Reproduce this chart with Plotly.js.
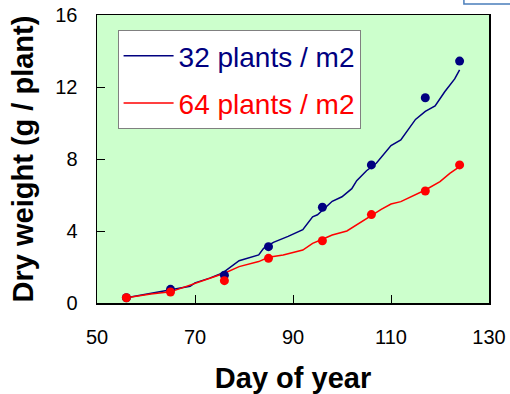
<!DOCTYPE html>
<html>
<head>
<meta charset="utf-8">
<script src="https://cdn.plot.ly/plotly-3.0.1.min.js"></script>
<style>html,body{margin:0;padding:0;background:#fff;}#chart{width:510px;height:394px;}</style>
</head>
<body>
<div id="chart"></div>
<script>
const obsDays = [56, 65, 76, 85, 96, 106, 117, 124];
const obs32 = [0.29, 0.76, 1.54, 3.13, 5.32, 7.67, 11.4, 13.44];
const obs64 = [0.29, 0.61, 1.24, 2.48, 3.46, 4.91, 6.22, 7.67];

const simDays32 = [56, 61, 65, 69, 70, 73, 75, 76, 79, 83, 84, 86, 89, 92, 94, 95, 98, 100, 102, 103, 105, 107, 110, 112, 115, 117, 119, 121, 123, 124];
const sim32 = [0.29, 0.54, 0.75, 0.93, 1.12, 1.38, 1.6, 1.74, 2.35, 2.67, 3.04, 3.37, 3.7, 4.07, 4.79, 4.9, 5.65, 5.9, 6.35, 6.8, 7.35, 7.76, 8.75, 9.06, 10.2, 10.65, 10.95, 11.75, 12.45, 12.95];

const simDays64 = [56, 61, 65, 69, 76, 79, 83, 85, 88, 92, 94, 96, 98, 101, 104, 106, 108, 110, 112, 117, 120, 122, 124];
const sim64 = [0.29, 0.5, 0.62, 1.0, 1.65, 2.02, 2.3, 2.54, 2.67, 2.94, 3.31, 3.54, 3.78, 4.0, 4.52, 4.9, 5.2, 5.5, 5.63, 6.28, 6.74, 7.2, 7.57];

const names = ['32 plants / m2', '64 plants / m2'];
const blue = '#000080', red = '#ff0000';
const F = 'Liberation Sans, Arial, sans-serif';

const traces = [
  {x: simDays32, y: sim32, mode: 'lines', name: '<span style="color:' + blue + '">' + names[0] + '</span>', line: {color: blue, width: 1.5}, legendgroup: 'a'},
  {x: simDays64, y: sim64, mode: 'lines', name: '<span style="color:' + red + '">' + names[1] + '</span>', line: {color: red, width: 1.5}, legendgroup: 'b'},
  {x: obsDays, y: obs32, mode: 'markers', showlegend: false, marker: {color: blue, size: 9}},
  {x: obsDays, y: obs64, mode: 'markers', showlegend: false, marker: {color: red, size: 9}}
];

const layout = {
  width: 510, height: 394,
  margin: {l: 97, r: 21, t: 15, b: 91},
  paper_bgcolor: '#ffffff',
  plot_bgcolor: '#ccffcc',
  font: {family: F, color: '#000'},
  showlegend: true,
  legend: {
    x: 0.0525, y: 0.948, xanchor: 'left', yanchor: 'top',
    bgcolor: '#ffffff', bordercolor: '#808080', borderwidth: 1,
    font: {family: F, size: 28},
    itemwidth: 50,
    traceorder: 'grouped', tracegroupgap: 8
  },
  xaxis: {
    range: [50, 130], dtick: 20, tick0: 50,
    ticks: 'inside', ticklen: 8, tickcolor: '#000', tickwidth: 1,
    showline: true, linecolor: '#000', linewidth: 1.5, mirror: true,
    showgrid: false, zeroline: false,
    tickfont: {family: F, size: 20},
    ticklabelstandoff: 15,
    title: {text: '<b>Day of year</b>', font: {family: F, size: 29}, standoff: 21}
  },
  yaxis: {
    range: [0, 16], dtick: 4, tick0: 0,
    ticks: 'inside', ticklen: 8, tickcolor: '#000', tickwidth: 1,
    showline: true, linecolor: '#000', linewidth: 1.5, mirror: true,
    showgrid: false, zeroline: false,
    tickfont: {family: F, size: 20},
    ticklabelstandoff: 14,
    title: {text: '<b>Dry weight (g / plant)</b>', font: {family: F, size: 29}, standoff: 13}
  },
  shapes: [
    {type: 'rect', xref: 'paper', yref: 'paper', x0: 0.936, x1: 1.12, y0: 1.038, y1: 1.12,
     line: {color: '#4a7ebb', width: 1.5}, fillcolor: 'rgba(0,0,0,0)'}
  ]
};

Plotly.newPlot('chart', traces, layout, {displayModeBar: false, staticPlot: true});
</script>
</body>
</html>
